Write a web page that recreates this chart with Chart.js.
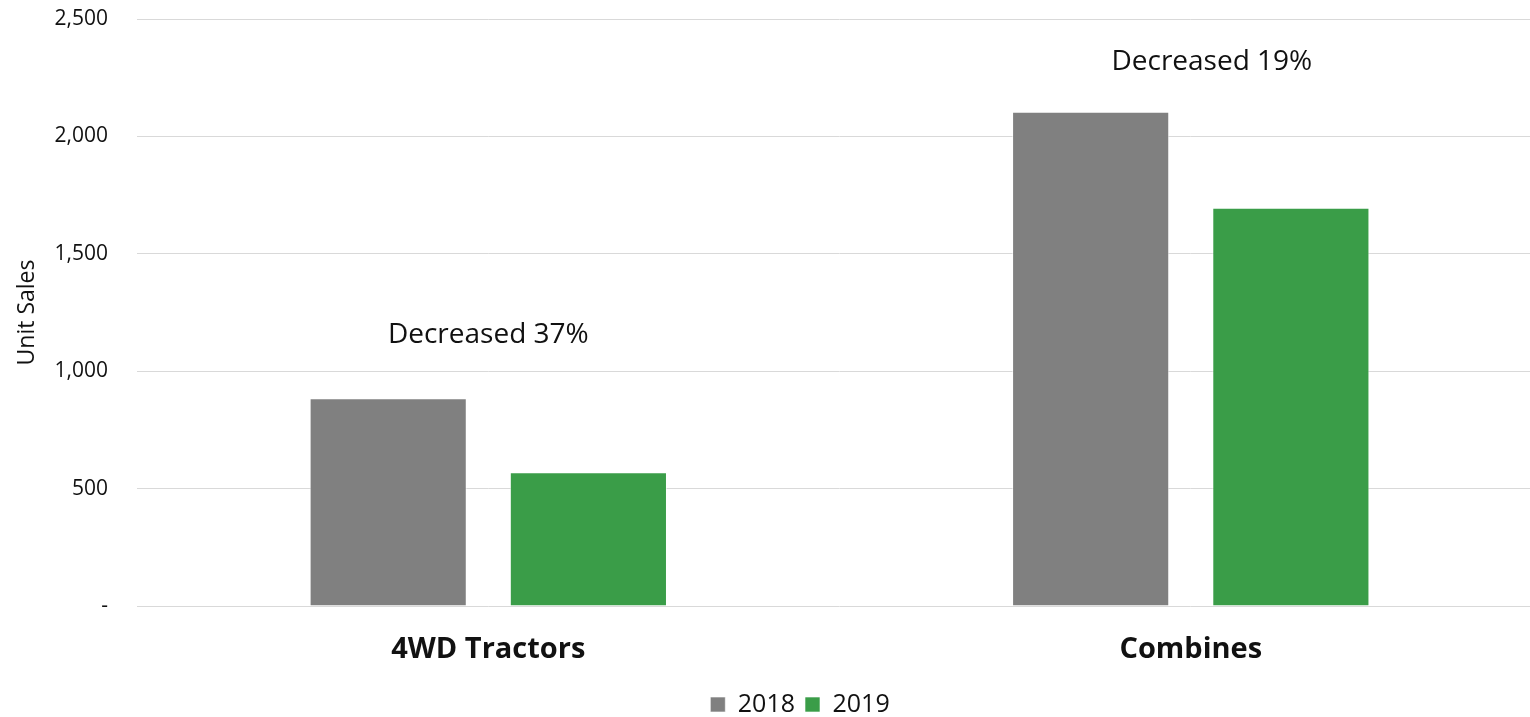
<!DOCTYPE html>
<html>
<head>
<meta charset="utf-8">
<script src="https://cdn.jsdelivr.net/npm/chart.js@4/dist/chart.umd.min.js"></script>
<style>
  html, body { margin: 0; padding: 0; background: #fff; overflow: hidden; }
  #wrap { width: 1600px; height: 717px; }
</style>
</head>
<body>
<div id="wrap"><canvas id="grafico"></canvas></div>
<script>
// datos
const categorias = ['4WD Tractors', 'Combines'];
const ventas2018 = [885, 2105];
const ventas2019 = [570, 1696];
const etiquetasY = [0, 500, 1000, 1500, 2000, 2500];
const notas = ['Decreased 37%', 'Decreased 19%'];
const notasX = [0, 1.03];      // posicion en el eje de categorias
const notasY = [1156, 2315];   // posicion en el eje de valores

const fuente = "'Open Sans', 'Liberation Sans', sans-serif";

const notasPlugin = {
  id: 'notas',
  afterDatasetsDraw(chart) {
    const ctx = chart.ctx;
    const x = chart.scales.x;
    const y = chart.scales.y;
    ctx.save();
    ctx.font = `28px ${fuente}`;
    ctx.fillStyle = '#111';
    ctx.textAlign = 'center';
    ctx.textBaseline = 'middle';
    notas.forEach((texto, i) => {
      ctx.fillText(texto, x.getPixelForValue(notasX[i]), y.getPixelForValue(notasY[i]));
    });
    ctx.restore();
  }
};

const ctx = document.getElementById('grafico').getContext('2d');

const grafico = new Chart(ctx, {
  type: 'bar',
  data: {
    labels: categorias,
    datasets: [
      {
        label: '2018',
        data: ventas2018,
        backgroundColor: '#808080',
        borderColor: 'rgba(255,255,255,0.6)',
        borderWidth: 1
      },
      {
        label: '2019',
        data: ventas2019,
        backgroundColor: '#3a9d48',
        borderColor: 'rgba(255,255,255,0.6)',
        borderWidth: 1
      }
    ]
  },
  options: {
    responsive: true,
    maintainAspectRatio: false,
    animation: false,
    layout: { padding: { top: 19, right: 0, left: 0, bottom: -10 } },
    categoryPercentage: 0.57,
    barPercentage: 0.785,
    plugins: {
      legend: {
        position: 'bottom',
        labels: {
          font: { family: fuente, size: 25 },
          color: '#111',
          boxWidth: 15,
          boxHeight: 15,
          padding: 10
        }
      },
      tooltip: { enabled: false }
    },
    scales: {
      x: {
        grid: { display: false, drawTicks: false },
        border: { display: false },
        ticks: {
          font: { family: fuente, size: 29, weight: 'bold' },
          color: '#111',
          padding: 26
        },
        afterFit(scale) { scale.height = 76; }
      },
      y: {
        min: 0,
        max: 2500,
        afterBuildTicks(scale) {
          scale.ticks = etiquetasY.map(v => ({ value: v }));
        },
        grid: { color: '#d9d9d9', lineWidth: 1, drawTicks: true, tickLength: 29, tickColor: 'rgba(0,0,0,0)' },
        border: { display: false },
        ticks: {
          font: { family: fuente, size: 21 },
          color: '#111',
          padding: 0,
          callback: v => v === 0 ? '-' : v.toLocaleString('en-US')
        },
        title: {
          display: true,
          text: 'Unit Sales',
          font: { family: fuente, size: 23 },
          color: '#111',
          padding: { top: 14, bottom: 13 }
        }
      },
      // eje vacio a la derecha: solo reserva espacio
      margen: {
        position: 'right',
        grid: { display: false, drawTicks: false },
        border: { display: false },
        ticks: { display: false },
        afterFit(scale) { scale.width = 58; }
      }
    }
  },
  plugins: [notasPlugin]
});
</script>
</body>
</html>
